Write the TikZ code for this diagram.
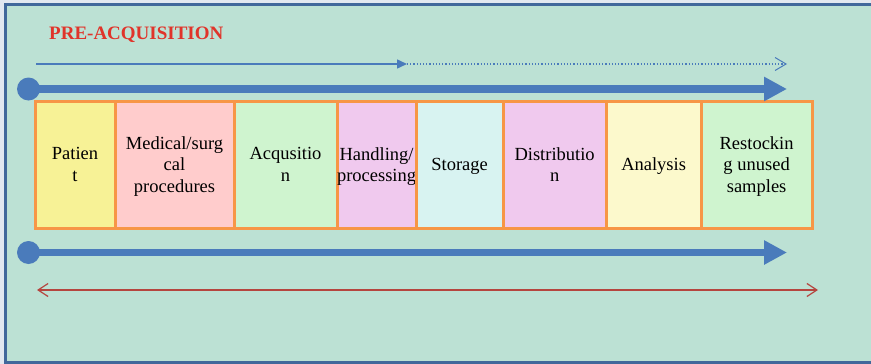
\documentclass[tikz,border=0pt]{standalone}
\usepackage{fontspec}
\setmainfont{Liberation Serif}
\usetikzlibrary{positioning,arrows.meta}

\definecolor{bgTeal}{HTML}{BCE1D4}
\definecolor{frameBlue}{HTML}{41689B}
\definecolor{flowBlue}{HTML}{4A7BBB}
\definecolor{stageOrange}{HTML}{F79646}
\definecolor{titleRed}{HTML}{E0342A}
\definecolor{spanRed}{HTML}{B5453F}
\definecolor{patientFill}{HTML}{F7F296}
\definecolor{medicalFill}{HTML}{FFCCCC}
\definecolor{greenFill}{HTML}{CFF4CF}
\definecolor{violetFill}{HTML}{F0C9EE}
\definecolor{storageFill}{HTML}{D8F3F1}
\definecolor{analysisFill}{HTML}{FCF9CC}

\begin{document}
\begin{tikzpicture}[
            x=1pt, y=-1pt,
            stageBox/.style={rectangle, draw=stageOrange, line width=3pt,
            minimum height=127pt, inner sep=0pt, outer sep=0pt, align=center,
            text depth=-4pt, font=\fontsize{18.5}{21.5}\selectfont},
            startDot/.style={circle, fill=flowBlue, minimum size=23pt, inner sep=0pt},
            flowArrow/.style={line width=7.5pt, draw=flowBlue, -{Triangle[length=23pt,width=23pt]}},
            thinArrow/.style={line width=1.5pt, draw=flowBlue, -{Triangle[length=10pt,width=9pt]}},
            dottedArrow/.style={line width=1.2pt, draw=flowBlue, dotted, -{Straight Barb[length=11pt,width=13pt,line width=1pt]}},
            spanArrow/.style={line width=1.2pt, draw=spanRed, {Straight Barb[length=10pt,width=13pt]}-{Straight Barb[length=10pt,width=13pt]}},
        ]
        % page and panel
        \clip (0,0) rectangle (871,364);
        \fill[frameBlue!15] (0,0) rectangle (871,364);
        \path[fill=bgTeal, draw=frameBlue, line width=3pt] (5.5,4.5) rectangle (890,362);

        \node[font=\fontsize{19}{22}\selectfont\bfseries, text=titleRed, anchor=west, inner sep=0pt] (preAcq) at (49,35) {PRE-ACQUISITION};

        % stages
        \node[stageBox, fill=patientFill, minimum width=80pt, anchor=west] (patient) at (35,164.5) {Patien\\t};
        \node[stageBox, fill=medicalFill, minimum width=119pt, right=0pt of patient] (medical) {Medical/surg\\cal\\procedures};
        \node[stageBox, fill=greenFill, minimum width=103pt, right=0pt of medical] (acquisition) {Acqusitio\\n};
        \node[stageBox, fill=violetFill, minimum width=78pt, right=0pt of acquisition] (handling) {Handling/\\processing};
        \node[stageBox, fill=storageFill, minimum width=87pt, right=0pt of handling] (storage) {Storage};
        \node[stageBox, fill=violetFill, minimum width=103pt, right=0pt of storage] (distribution) {Distributio\\n};
        \node[stageBox, fill=analysisFill, minimum width=95pt, right=0pt of distribution] (analysis) {Analysis};
        \node[stageBox, fill=greenFill, minimum width=111pt, right=0pt of analysis] (restocking) {Restockin\\g unused\\samples};

        % arrows
        \coordinate (preStart) at (36,64);
        \coordinate (preMid) at (407,64);
        \coordinate (preEnd) at (787,64);
        \draw[thinArrow] (preStart) -- (preMid);
        \draw[dottedArrow] (preMid) -- (preEnd);

        \node[startDot] (topDot) at (28.5,89) {};
        \coordinate (topEnd) at (787,89);
        \draw[flowArrow] (topDot.center) -- (topEnd);

        \node[startDot] (bottomDot) at (28.5,252.5) {};
        \coordinate (bottomEnd) at (787,252.5);
        \draw[flowArrow] (bottomDot.center) -- (bottomEnd);

        \coordinate (spanStart) at (37,290);
        \coordinate (spanEnd) at (818,290);
        \draw[spanArrow] (spanStart) -- (spanEnd);
    \end{tikzpicture}
\end{document}
